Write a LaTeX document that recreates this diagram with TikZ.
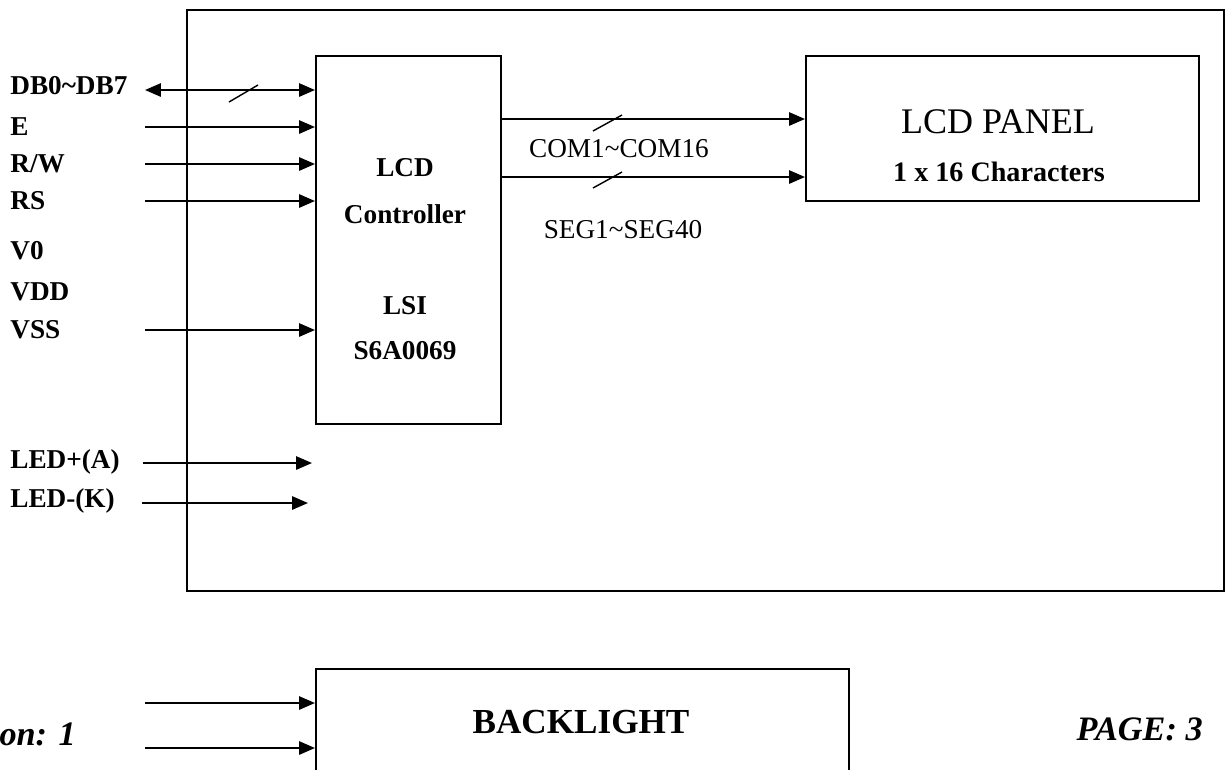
\documentclass[tikz,border=0pt]{standalone}
\usepackage{fontspec}
\setmainfont{Liberation Serif}
\usetikzlibrary{arrows.meta,positioning}

\begin{document}
\begin{tikzpicture}[x=0.02cm, y=-0.02cm, >={Triangle[length=9pt,width=7.5pt]},
		txt/.style={inner sep=0pt, font=\fontsize{15.5}{18}\selectfont},
		btxt/.style={inner sep=0pt, font=\fontsize{15.5}{18}\selectfont\bfseries},
		sig/.style={btxt, anchor=west},
		wire/.style={line width=1.1pt},
		blk/.style={draw, line width=1.1pt, inner sep=0pt, anchor=north west}]
		\useasboundingbox (0,0) rectangle (1226,769);
		\def\xs{145}
		% ---------------- module frame ----------------
		\draw[line width=1.1pt] (187,52) -- (187,10) -- (1224,10) -- (1224,591) -- (187,591) -- (187,567);
		\draw[line width=0.6pt] (187,52) -- (187,567);
		% ---------------- controller ----------------
		\node[blk, minimum width=3.7cm, minimum height=7.36cm] (ctrl) at (315,55) {};
		\node[btxt] (c1) at (405,168) {LCD};
		\node[btxt] (c2) at (405,214) {Controller};
		\node[btxt] (c3) at (405,306) {LSI};
		\node[btxt] (c4) at (405,351) {S6A0069};
		% ---------------- panel ----------------
		\node[blk, minimum width=7.86cm, minimum height=2.9cm] (panel) at (805,55) {};
		\node[inner sep=0pt, font=\fontsize{20.5}{24}\selectfont] (p1) at (998,122) {LCD PANEL};
		\node[inner sep=0pt, font=\fontsize{16}{19}\selectfont\bfseries] (p2) at (999,172) {1 x 16 Characters};
		% ---------------- interface pins ----------------
		\node[sig] (l-db) at (10,86) {DB0\textasciitilde DB7};
		\coordinate (s-db) at (\xs,90);
		\draw[wire,<->] (s-db) -- (s-db -| ctrl.west);
		\draw[line width=0.8pt] (229,102) -- (258,85);
		\foreach \n/\t/\y in {e/E/127, rw/{R/W}/164, rs/RS/201, vss/VSS/330}{
			\node[sig] (l-\n) at (10,\y) {\t};
			\coordinate (s-\n) at (\xs,\y);
			\draw[wire,->] (s-\n) -- (s-\n -| ctrl.west);
		}
		\node[sig] (l-v0) at (10,251) {V0};
		\node[sig] (l-vdd) at (10,292) {VDD};
		% backlight pins
		\node[sig] (l-a) at (10,462) {LED+(A)};
		\node[sig] (l-k) at (10,501) {LED-(K)};
		\coordinate (s-a) at (143,463);
		\coordinate (e-a) at (312,463);
		\coordinate (s-k) at (142,503);
		\coordinate (e-k) at (308,503);
		\draw[wire,->] (s-a) -- (e-a);
		\draw[wire,->] (s-k) -- (e-k);
		% ---------------- driver outputs ----------------
		\coordinate (o-com) at (ctrl.east |- 0,119);
		\coordinate (o-seg) at (ctrl.east |- 0,177);
		\draw[wire,->] (o-com) -- (o-com -| panel.west);
		\draw[wire,->] (o-seg) -- (o-seg -| panel.west);
		\draw[line width=0.8pt] (593,131) -- (622,115);
		\draw[line width=0.8pt] (593,188) -- (622,172);
		\node[txt] (t-com) at (619,149) {COM1\textasciitilde COM16};
		\node[txt] (t-seg) at (623,230) {SEG1\textasciitilde SEG40};
		% ---------------- backlight ----------------
		\node[blk, minimum width=10.66cm, minimum height=3cm] (bl) at (315,668) {};
		\node[inner sep=0pt, font=\fontsize{20}{24}\selectfont\bfseries] (t-bl) at (581,722) {BACKLIGHT};
		\coordinate (s-b1) at (\xs,703);
		\coordinate (s-b2) at (\xs,748);
		\draw[wire,->] (s-b1) -- (s-b1 -| bl.west);
		\draw[wire,->] (s-b2) -- (s-b2 -| bl.west);
		% ---------------- footer ----------------
		\node[inner sep=0pt, anchor=base east, font=\fontsize{19.5}{23}\selectfont\bfseries\itshape] (ver) at (76,745) {on: 1};
		\node[inner sep=0pt, anchor=base east, font=\fontsize{19.5}{23}\selectfont\bfseries\itshape] (page) at (1203,740) {PAGE: 3};
	\end{tikzpicture}
\end{document}
